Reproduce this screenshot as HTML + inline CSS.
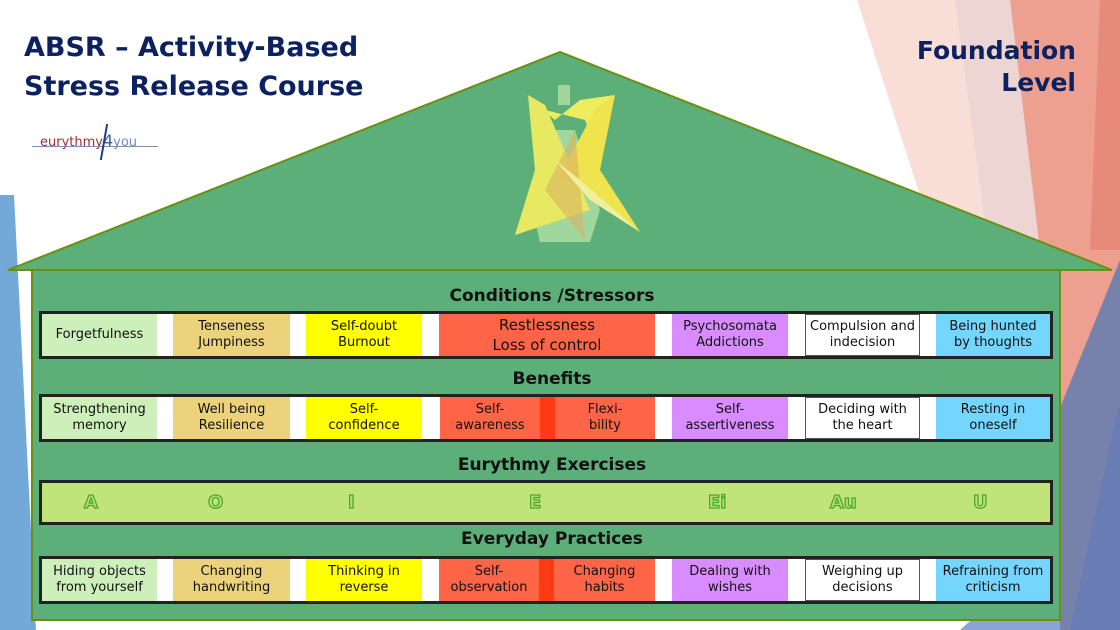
<!DOCTYPE html>
<html><head><meta charset="utf-8"><style>
body{margin:0;width:1120px;height:630px;overflow:hidden;background:#fff;font-family:"DejaVu Sans","Liberation Sans",sans-serif;position:relative}
.abs{position:absolute}
.t{color:#0b2160;font-weight:bold;font-size:27px;line-height:39px}
.h{position:absolute;left:32px;width:1040px;text-align:center;font-weight:bold;font-size:17px;color:#111}
.row{position:absolute;left:39px;width:1008px;border:3px solid #222;background:#fff;box-sizing:content-box}
.c{position:absolute;top:0;bottom:0;display:flex;align-items:center;justify-content:center;text-align:center;font-size:13px;line-height:16px;color:#111}
.ex{position:absolute;top:0;bottom:0;display:flex;align-items:center;font-weight:900;font-size:18px;color:#b8e070;-webkit-text-stroke:1.3px #4ea82a}
</style></head><body>
<svg class="abs" style="left:0;top:0" width="1120" height="630">
<polygon points="0,195 14,195 36,630 0,630" fill="#72a9d8"/>
<polygon points="857,0 1010,0 1100,630 1060,630" fill="#f9ddd7"/>
<polygon points="955,0 1060,0 1075,630 1040,630" fill="#ead3d3" opacity="0.8"/>
<polygon points="1010,0 1120,0 1120,630 1060,630 1040,250" fill="#eea090"/>
<polygon points="1100,0 1120,0 1120,250 1090,250" fill="#e88a7a"/>
<polygon points="1120,260 1120,630 1040,630 1055,420" fill="#7682ac"/>
<polygon points="1120,400 1120,630 1070,630" fill="#6a7cb4"/>
<polygon points="960,630 1060,540 1060,630" fill="#8aa4d8"/>
<polygon points="8,270 560,52 1112,270" fill="#5daf7a" stroke="#6a8f12" stroke-width="2"/>
<rect x="32" y="270" width="1028" height="350" fill="#5daf7a" stroke="#6a8f12" stroke-width="2"/>
<g opacity="0.9">
<polygon points="540,242 590,242 600,210 575,130 548,130 530,200" fill="#a8dca0"/>
<rect x="558" y="85" width="12" height="20" fill="#a8dca0"/>
<polygon points="522,92 545,110 585,120 600,160 595,110 615,95 580,100 555,120" fill="#fff35a"/>
<polygon points="528,95 545,105 590,210 515,235 535,170" fill="#f8f060"/>
<polygon points="595,110 615,95 600,170 640,232 560,175" fill="#ffe94a"/>
<polygon points="545,190 575,130 585,240" fill="#e8b060" opacity="0.6"/>
<polygon points="555,160 590,200 640,232 580,180" fill="#fff7a0"/>
</g>
</svg>
<div class="abs t" style="left:24px;top:28px">ABSR – Activity-Based<br>Stress Release Course</div>
<div class="abs t" style="right:44px;top:35px;text-align:right;font-size:25px;line-height:32px">Foundation<br>Level</div>
<div class="abs" style="left:40px;top:131px;font-size:13px;color:#9a3030">eurythmy<span style="color:#3a5fb0;font-size:16px">4</span><span style="color:#6a8ad0">you</span></div>
<div class="abs" style="left:32px;top:146px;width:126px;height:1px;background:#8090b0"></div>
<div class="abs" style="left:103px;top:124px;width:2px;height:36px;background:#1a3a90;transform:skewX(-10deg)"></div>

<div class="h" style="top:286px">Conditions /Stressors</div>
<div class="row" style="top:311px;height:42px">
<div class="c" style="left:0;width:115px;background:#cdf0bb">Forgetfulness</div>
<div class="c" style="left:131px;width:117px;background:#edd27c">Tenseness<br>Jumpiness</div>
<div class="c" style="left:264px;width:116px;background:#ffff00">Self-doubt<br>Burnout</div>
<div class="c" style="left:397px;width:216px;background:#fe6446;font-size:15px;line-height:20px">Restlessness<br>Loss of control</div>
<div class="c" style="left:630px;width:116px;background:#d98cff">Psychosomata<br>Addictions</div>
<div class="c" style="left:763px;width:113px;border:1px solid #555">Compulsion and<br>indecision</div>
<div class="c" style="left:894px;width:114px;background:#74d5fd">Being hunted<br>by thoughts</div>
</div>
<div class="h" style="top:369px">Benefits</div>
<div class="row" style="top:394px;height:42px">
<div class="c" style="left:0;width:115px;background:#cdf0bb">Strengthening<br>memory</div>
<div class="c" style="left:131px;width:117px;background:#edd27c">Well being<br>Resilience</div>
<div class="c" style="left:264px;width:116px;background:#ffff00">Self-<br>confidence</div>
<div class="c" style="left:398px;width:100px;background:#fe6446">Self-<br>awareness</div>
<div class="c" style="left:498px;width:15px;background:#ff3a15"></div>
<div class="c" style="left:513px;width:100px;background:#fe6446">Flexi-<br>bility</div>
<div class="c" style="left:630px;width:116px;background:#d98cff">Self-<br>assertiveness</div>
<div class="c" style="left:763px;width:113px;border:1px solid #555">Deciding with<br>the heart</div>
<div class="c" style="left:894px;width:114px;background:#74d5fd">Resting in<br>oneself</div>
</div>
<div class="h" style="top:455px">Eurythmy Exercises</div>
<div class="row" style="top:480px;height:39px;background:#c0e37a">
<div class="ex" style="left:42px">A</div>
<div class="ex" style="left:166px">O</div>
<div class="ex" style="left:306px">I</div>
<div class="ex" style="left:487px">E</div>
<div class="ex" style="left:666px">Ei</div>
<div class="ex" style="left:788px">Au</div>
<div class="ex" style="left:931px">U</div>
</div>
<div class="h" style="top:529px">Everyday Practices</div>
<div class="row" style="top:556px;height:42px">
<div class="c" style="left:0;width:115px;background:#cdf0bb">Hiding objects<br>from yourself</div>
<div class="c" style="left:131px;width:117px;background:#edd27c">Changing<br>handwriting</div>
<div class="c" style="left:264px;width:116px;background:#ffff00">Thinking in<br>reverse</div>
<div class="c" style="left:397px;width:100px;background:#fe6446">Self-<br>observation</div>
<div class="c" style="left:497px;width:15px;background:#ff3a15"></div>
<div class="c" style="left:512px;width:101px;background:#fe6446">Changing<br>habits</div>
<div class="c" style="left:630px;width:116px;background:#d98cff">Dealing with<br>wishes</div>
<div class="c" style="left:763px;width:113px;border:1px solid #555">Weighing up<br>decisions</div>
<div class="c" style="left:894px;width:114px;background:#74d5fd">Refraining from<br>criticism</div>
</div>
</body></html>
